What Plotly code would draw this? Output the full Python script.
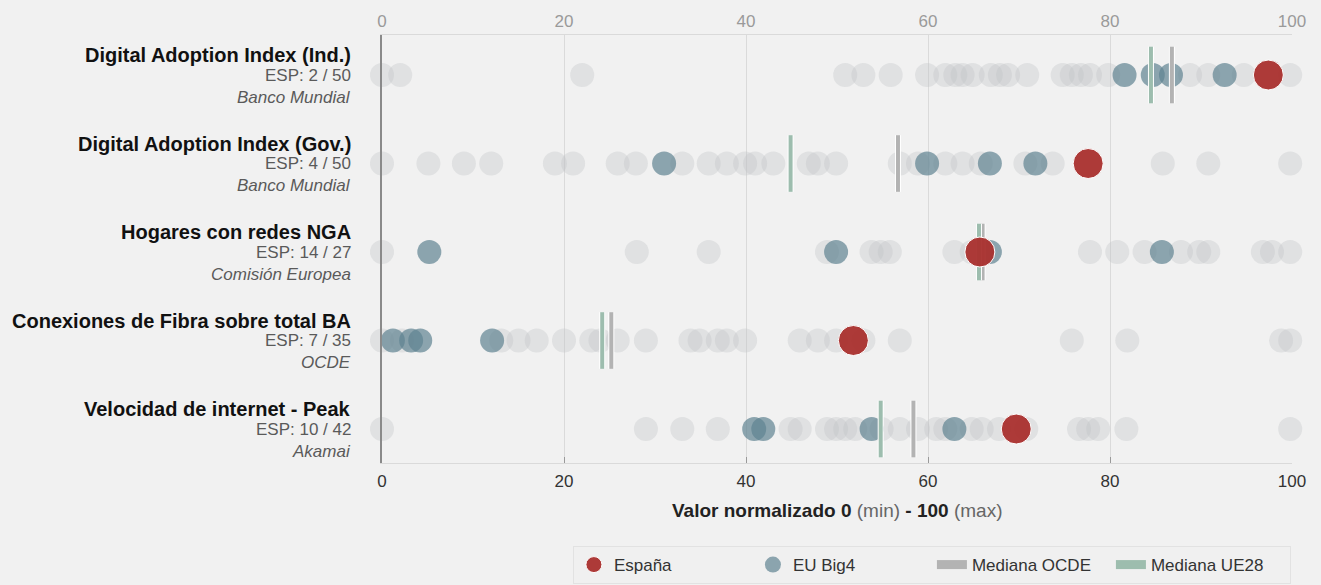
import plotly.graph_objects as go

# ---------------- data ----------------
indicators = [
    "Digital Adoption Index (Ind.)",
    "Digital Adoption Index (Gov.)",
    "Hogares con redes NGA",
    "Conexiones de Fibra sobre total BA",
    "Velocidad de internet - Peak",
]
ranks = ["ESP: 2 / 50", "ESP: 4 / 50", "ESP: 14 / 27", "ESP: 7 / 35", "ESP: 10 / 42"]
sources = ["Banco Mundial", "Banco Mundial", "Comisión Europea", "OCDE", "Akamai"]

others_ind = [0, 2, 22, 50.9, 52.9, 55.9, 59.9, 61.9, 63.0, 63.8, 64.9, 66.9, 67.9, 68.8,
              70.9, 74.8, 75.8, 76.8, 77.8, 79.8, 88.8, 90.8, 94.7, 99.8]
others_gov = [0, 5.1, 9.0, 12.0, 19.0, 21.0, 25.9, 27.9, 33.0, 35.9, 37.9, 39.9, 41.0,
              43.0, 46.9, 47.9, 49.9, 56.9, 58.9, 61.9, 63.8, 65.8, 70.7, 73.7, 85.8,
              90.8, 99.8]
others_nga = [0, 28.0, 35.9, 48.9, 53.8, 54.8, 55.8, 62.9, 64.8, 77.8, 80.8, 83.8, 87.8,
              89.8, 90.8, 96.8, 97.8, 99.8]
others_fib = [0, 2.2, 13.1, 15.0, 17.0, 20.0, 23.0, 24.0, 25.9, 29.0, 33.9, 34.9, 36.9,
              37.9, 39.9, 45.9, 47.9, 49.9, 52.9, 56.9, 75.8, 81.9, 98.8, 99.8]
others_peak = [0, 29.0, 33.0, 36.9, 44.9, 45.9, 48.9, 49.9, 50.9, 52.0, 54.9, 56.9, 58.9,
               60.9, 61.9, 64.8, 65.9, 67.8, 70.8, 76.6, 77.6, 78.7, 81.8, 99.8]
others = [others_ind, others_gov, others_nga, others_fib, others_peak]

big4 = [
    [81.6, 84.7, 86.7, 92.6],
    [31.0, 59.9, 66.8, 71.8],
    [5.2, 49.9, 66.8, 85.7],
    [1.2, 3.2, 4.2, 12.1],
    [40.9, 41.9, 53.8, 62.9],
]
spain = [97.4, 77.6, 65.7, 51.8, 69.7]
median_oecd = [86.8, 56.7, 66.0, 25.2, 58.4]
median_eu = [84.5, 44.9, 65.6, 24.2, 54.8]

xticks = [0, 20, 40, 60, 80, 100]

# ---------------- figure ----------------
FONT = "Liberation Sans, Arial, sans-serif"
BG = "#f1f1f1"
HALF = 0.32
OCDE_COL = "#b3b3b3"
UE_COL = "#9dbdae"
SPAIN_COL = "rgba(170,50,48,0.96)"
BIG4_COL = "rgba(95,131,145,0.7)"

fig = go.Figure()

gx, gy = [], []
for i, vals in enumerate(others):
    gx += vals
    gy += [i] * len(vals)
fig.add_trace(go.Scatter(
    x=gx, y=gy, mode="markers", showlegend=False, hoverinfo="x",
    cliponaxis=False,
    marker=dict(size=24, color="rgba(192,194,198,0.35)", line=dict(width=0)),
))

bx, by = [], []
for i, vals in enumerate(big4):
    bx += vals
    by += [i] * len(vals)
fig.add_trace(go.Scatter(
    x=bx, y=by, mode="markers", name="EU Big4", cliponaxis=False, legendrank=2,
    marker=dict(size=24, color=BIG4_COL, line=dict(width=0)),
))


def seg(vals):
    xs, ys = [], []
    for i, v in enumerate(vals):
        xs += [v, v, None]
        ys += [i - HALF, i + HALF, None]
    return xs, ys


for vals, col, name, rank in [(median_oecd, OCDE_COL, "Mediana OCDE", 3),
                              (median_eu, UE_COL, "Mediana UE28", 4)]:
    xs, ys = seg(vals)
    fig.add_trace(go.Scatter(x=xs, y=ys, mode="lines", showlegend=False,
                             hoverinfo="skip", line=dict(color="white", width=6)))
    fig.add_trace(go.Scatter(x=xs, y=ys, mode="lines", name=name, showlegend=False,
                             line=dict(color=col, width=4)))
    # legend entry (thicker swatch)
    fig.add_trace(go.Scatter(x=[None], y=[None], mode="lines", name=name,
                             legendrank=rank, line=dict(color=col, width=9)))

fig.add_trace(go.Scatter(
    x=spain, y=list(range(len(spain))), mode="markers", name="España",
    cliponaxis=False, legendrank=1,
    marker=dict(size=30, color=SPAIN_COL, line=dict(width=1, color="white")),
))

# invisible trace for top axis
fig.add_trace(go.Scatter(x=[None], y=[None], xaxis="x2", showlegend=False, hoverinfo="skip"))

# left labels
LX = -0.032
for i in range(len(indicators)):
    fig.add_annotation(x=LX, xref="paper", y=i - 0.226, yref="y", xanchor="right",
                       yanchor="middle", showarrow=False,
                       text="<b>" + indicators[i] + "</b>",
                       font=dict(size=20, color="#111", family=FONT))
    fig.add_annotation(x=LX, xref="paper", y=i, yref="y", xanchor="right",
                       yanchor="middle", showarrow=False, text=ranks[i],
                       font=dict(size=17, color="#5a5a5a", family=FONT))
    fig.add_annotation(x=LX, xref="paper", y=i + 0.25, yref="y", xanchor="right",
                       yanchor="middle", showarrow=False, text="<i>" + sources[i] + "</i>",
                       font=dict(size=17, color="#5a5a5a", family=FONT))

fig.add_annotation(
    x=0.5, xref="paper", y=-0.112, yref="paper", showarrow=False, yanchor="middle",
    text="<b>Valor normalizado 0</b> <span style='color:#666'>(min)</span> "
         "<b>- 100</b> <span style='color:#666'>(max)</span>",
    font=dict(size=19, color="#222", family=FONT),
)

fig.update_layout(
    width=1321, height=585,
    margin=dict(l=382, r=29, t=35, b=122, autoexpand=False),
    paper_bgcolor=BG, plot_bgcolor=BG,
    font=dict(family=FONT, size=17, color="#333"),
    xaxis=dict(range=[0, 100], tickvals=xticks, showgrid=True, gridcolor="#dadada",
               gridwidth=1, zeroline=False, showline=True, linecolor="#dadada",
               mirror=True, ticks="inside", ticklen=6, tickcolor="#999",
               ticklabelstandoff=3, automargin=False,
               tickfont=dict(size=17, color="#333")),
    xaxis2=dict(range=[0, 100], overlaying="x", side="top", matches="x",
                tickvals=xticks, showgrid=False, zeroline=False, showline=False,
                ticklabelstandoff=4, automargin=False,
                tickfont=dict(size=17, color="#9a9a9a")),
    yaxis=dict(range=[4.384, -0.452], showticklabels=False, showgrid=False,
               zeroline=False, showline=True, linecolor="#8a8a8a", linewidth=2,
               automargin=False),
    legend=dict(orientation="h", x=0.2098, y=-0.194, xanchor="left", yanchor="top",
                bgcolor="#f0f0f0", bordercolor="#e2e2e2", borderwidth=1,
                font=dict(size=17, color="#333"), traceorder="normal",
                entrywidth=134, entrywidthmode="pixels"),
    showlegend=True,
)

fig.write_html(
    "out.html",
    config={"displayModeBar": False},
    post_script="document.body.style.margin='0';document.body.style.background='#f1f1f1';",
)
